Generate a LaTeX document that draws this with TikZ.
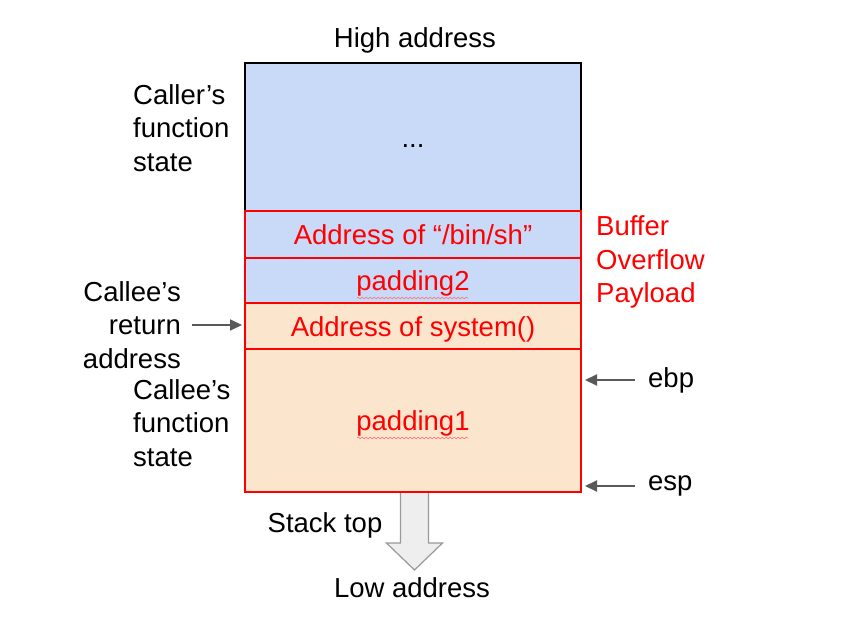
\documentclass[tikz,border=0pt]{standalone}
\usepackage{fontspec}
\setmainfont{Liberation Sans}
\usetikzlibrary{arrows.meta,decorations.pathmorphing}

\definecolor{callerblue}{HTML}{C9DAF8}
\definecolor{calleeorange}{HTML}{FCE5CD}
\definecolor{ptrgray}{HTML}{595959}
\definecolor{arrowgray}{HTML}{999999}
\definecolor{arrowfill}{HTML}{EEEEEE}

\tikzset{
  every node/.style={font=\fontsize{27.5}{33.5}\selectfont,inner sep=0pt},
  frame/.style={draw,line width=2pt,minimum width=336pt,anchor=center},
  payload/.style={frame,draw=red,text=red,text height=20pt,text depth=0pt},
  ptr/.style={draw=ptrgray,line width=2pt,-{Triangle[length=12pt,width=11pt]}},
  squiggle/.style={red!55,line width=.6pt,decorate,decoration={snake,amplitude=.8pt,segment length=4pt}}
}

\begin{document}
\begin{tikzpicture}[x=1pt,y=-1pt]
\useasboundingbox (0,0) rectangle (849,632);

% stack frames
\node[frame,fill=callerblue,minimum height=148pt] (caller) at (413,137) {};
\node (dots) at (413,146) {...};
\node[payload,fill=callerblue,minimum height=47pt] (binsh) at (413,234.5) {Address of “/bin/sh”};
\node[payload,fill=callerblue,minimum height=45pt] (pad2) at (413,280.5) {padding2};
\node[payload,fill=calleeorange,minimum height=46pt] (sys) at (413,326) {Address of system()};
\node[payload,fill=calleeorange,minimum height=143pt] (pad1) at (413,420.5) {padding1};
\draw[squiggle] (357,298) -- (468,298);
\draw[squiggle] (357,438) -- (468,438);

% labels
\node (high) at (415,40) {High address};
\node[align=left,anchor=west] (callerlbl) at (133,128) {Caller’s\\function\\state};
\node[align=right,anchor=east] (retlbl) at (181,325) {Callee’s\\return\\address};
\node[align=left,anchor=west] (calleelbl) at (133,423) {Callee’s\\function\\state};
\node[align=left,anchor=west,text=red] (bof) at (596,262) {Buffer\\Overflow\\Payload};
\node[anchor=west] (ebp) at (648,380) {ebp};
\node[anchor=west] (esp) at (648,486) {esp};

% pointers
\draw[ptr,shorten <=11pt,shorten >=2pt] (retlbl.east) -- (retlbl.east -| sys.west);
\draw[ptr,shorten <=13pt,shorten >=3pt] (ebp.west) -- (ebp.west -| pad1.east);
\draw[ptr,shorten <=13pt,shorten >=3pt] (esp.west) -- (esp.west -| pad1.east);

% growth direction
\draw[draw=arrowgray,fill=arrowfill,line width=1.2pt,line join=miter]
  (400.5,493) -- (400.5,543) -- (386.5,543) -- (414.5,570) -- (442.5,543) -- (428.5,543) -- (428.5,493);
\node (top) at (325,525) {Stack top};
\node (low) at (412,588) {Low address};
\end{tikzpicture}
\end{document}
